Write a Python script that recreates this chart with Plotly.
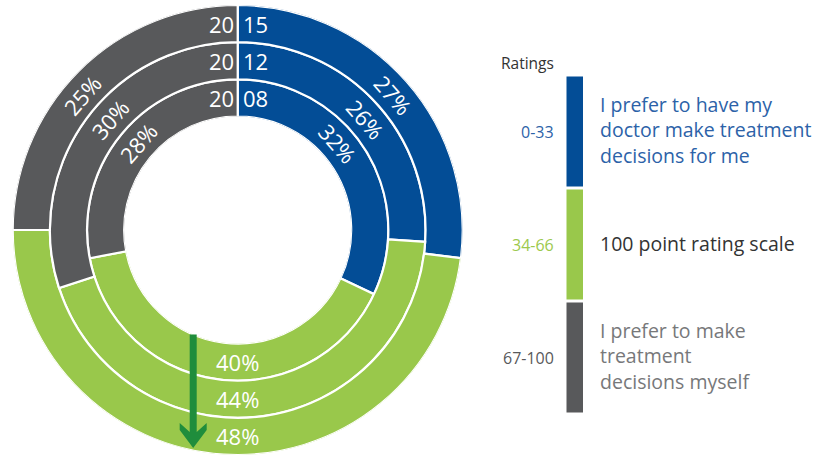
import math

import plotly.graph_objects as go

W, H = 829, 455

# rings from inner to outer
years = ["2008", "2012", "2015"]
rating_bands = ["0-33", "34-66", "67-100"]
band_texts = [
    "I prefer to have my<br>doctor make treatment<br>decisions for me",
    "100 point rating scale",
    "I prefer to make<br>treatment<br>decisions myself",
]
doctor_decides = [32, 26, 27]
rating_scale = [40, 44, 48]
self_decides = [28, 30, 25]

series = [doctor_decides, rating_scale, self_decides]
fill_colors = ["#034d96", "#99c84b", "#58595b"]
band_label_colors = ["#2c62a8", "#9cc94d", "#58595b"]
text_colors = ["#2c62a8", "#333333", "#77787a"]
label_angles = [49, 180, 311]  # where the percentage labels sit, deg clockwise from top

# donut geometry in pixels
CX, CY = 237.7, 230.0
R_OUT = 225.0
R_HOLE = 113.5
RING = (R_OUT - R_HOLE) / len(years)

FONT = "Open Sans"


def px_x(x):
    return x / W


def px_y(y):
    return 1 - y / H


fig = go.Figure()

starts = [0.0] * len(years)
for values, color, band in zip(series, fill_colors, rating_bands):
    fig.add_trace(
        go.Barpolar(
            r=[1] * len(years),
            base=list(range(len(years))),
            theta=[s * 3.6 + v * 1.8 for s, v in zip(starts, values)],
            width=[v * 3.6 for v in values],
            marker=dict(color=color, line=dict(color="white", width=2.2)),
            name=band,
            hoverinfo="skip",
        )
    )
    starts = [s + v for s, v in zip(starts, values)]

annotations = []

# percentage labels, tangential
for values, ang in zip(series, label_angles):
    for i, v in enumerate(values):
        r = R_HOLE + (i + 0.5) * RING
        x = CX + r * math.sin(math.radians(ang))
        y = CY - r * math.cos(math.radians(ang))
        rot = ang if ang <= 90 else (ang - 180 if ang < 270 else ang - 360)
        annotations.append(
            dict(
                x=px_x(x), y=px_y(y), xref="paper", yref="paper",
                text=f"{v}%", showarrow=False, textangle=rot,
                xanchor="center", yanchor="middle",
                font=dict(family=FONT, size=22, color="white"),
            )
        )

# year labels split on the top seam
for i, yr in enumerate(years):
    r = R_HOLE + (i + 0.5) * RING
    y = CY - r
    annotations.append(
        dict(x=px_x(CX - 2), y=px_y(y), xref="paper", yref="paper", text=yr[:2],
             showarrow=False, xanchor="right", yanchor="middle",
             font=dict(family=FONT, size=22, color="white"))
    )
    annotations.append(
        dict(x=px_x(CX + 3), y=px_y(y), xref="paper", yref="paper", text=yr[2:],
             showarrow=False, xanchor="left", yanchor="middle",
             font=dict(family=FONT, size=22, color="white"))
    )

# custom legend on the right
BAR_X0, BAR_X1 = 566.5, 583.0
BAR_TOP, BAR_H, BAR_GAP = 76.5, 110.0, 3.0
shapes = []
annotations.append(
    dict(x=px_x(556), y=px_y(63), xref="paper", yref="paper", text="Ratings",
         showarrow=False, xanchor="right", yanchor="middle",
         font=dict(family=FONT, size=15.5, color="#333333"))
)
for k, band in enumerate(rating_bands):
    y0 = BAR_TOP + k * (BAR_H + BAR_GAP)
    y1 = y0 + BAR_H
    ym = (y0 + y1) / 2
    shapes.append(
        dict(type="rect", xref="paper", yref="paper",
             x0=px_x(BAR_X0), x1=px_x(BAR_X1), y0=px_y(y1), y1=px_y(y0),
             fillcolor=fill_colors[k], line=dict(width=0))
    )
    annotations.append(
        dict(x=px_x(556), y=px_y(ym), xref="paper", yref="paper", text=band,
             showarrow=False, xanchor="right", yanchor="middle",
             font=dict(family=FONT, size=16, color=band_label_colors[k]))
    )
    annotations.append(
        dict(x=px_x(598), y=px_y(ym - 1.5), xref="paper", yref="paper", text=band_texts[k],
             showarrow=False, xanchor="left", yanchor="middle", align="left",
             font=dict(family=FONT, size=19.5, color=text_colors[k]))
    )

# green arrow from the hole edge down through the rating-scale segments
AX = CX - 44.5
SHAFT = 3.5
top_y = CY + math.sqrt(R_HOLE ** 2 - (AX - CX) ** 2)
tip_y = 448.0
pts = [
    (AX - SHAFT, top_y), (AX + SHAFT, top_y), (AX + SHAFT, tip_y - 16),
    (AX + 13.5, tip_y - 25), (AX + 13.5, tip_y - 18), (AX, tip_y),
    (AX - 13.5, tip_y - 18), (AX - 13.5, tip_y - 25), (AX - SHAFT, tip_y - 16),
]
path = "M " + " L ".join(f"{px_x(x):.5f},{px_y(y):.5f}" for x, y in pts) + " Z"
shapes.append(dict(type="path", xref="paper", yref="paper", path=path,
                   fillcolor="#1f8d3c", line=dict(width=0)))

fig.update_layout(
    width=W,
    height=H,
    margin=dict(l=0, r=0, t=0, b=0),
    paper_bgcolor="white",
    showlegend=False,
    polar=dict(
        domain=dict(x=[px_x(CX - R_OUT), px_x(CX + R_OUT)], y=[px_y(CY + R_OUT), px_y(CY - R_OUT)]),
        hole=R_HOLE / R_OUT,
        bgcolor="white",
        radialaxis=dict(visible=False, range=[0, len(years)]),
        angularaxis=dict(visible=False, direction="clockwise", rotation=90),
        bargap=0,
    ),
    annotations=annotations,
    shapes=shapes,
)

fig.write_html(
    "out.html",
    config={"displayModeBar": False},
    post_script="document.body.style.margin = '0';",
)
